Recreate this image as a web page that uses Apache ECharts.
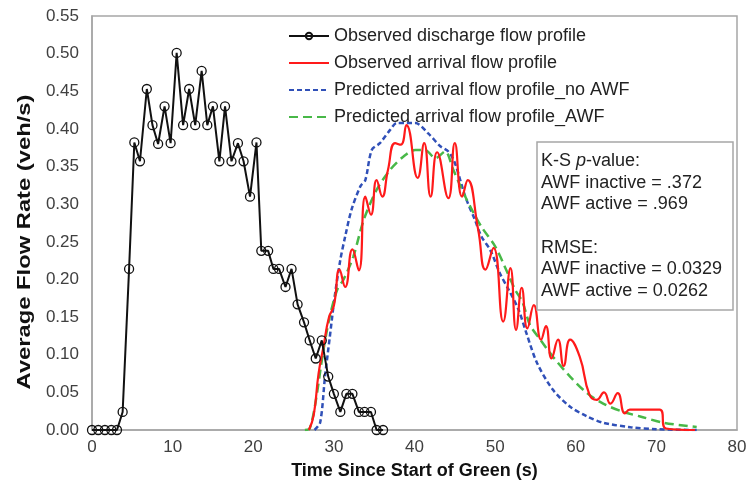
<!DOCTYPE html>
<html>
<head>
<meta charset="utf-8">
<script src="https://cdn.jsdelivr.net/npm/echarts@6/dist/echarts.min.js"></script>
<style>
  html, body { margin: 0; padding: 0; background: #fff; }
  #chart { width: 750px; height: 495px; }
</style>
</head>
<body>
<div id="chart"></div>
<script>
// observed discharge (black, circles)
const dischargeT = [0, 0.78, 1.6, 2.4, 3.1, 3.8, 4.6, 5.25, 5.95, 6.8, 7.5, 8.2, 9.0, 9.75, 10.5, 11.3, 12.05, 12.8, 13.6, 14.3, 15.0, 15.8, 16.5, 17.3, 18.1, 18.8, 19.6, 20.4, 21.0, 21.85, 22.5, 23.2, 24.0, 24.75, 25.5, 26.3, 27.0, 27.75, 28.5, 29.3, 30.0, 30.8, 31.55, 32.3, 33.1, 33.8, 34.6, 35.3, 36.1]
const dischargeV = [0, 0, 0, 0, 0, 0.024, 0.214, 0.382, 0.357, 0.453, 0.405, 0.38, 0.43, 0.381, 0.501, 0.405, 0.453, 0.405, 0.477, 0.405, 0.43, 0.357, 0.43, 0.357, 0.381, 0.357, 0.31, 0.382, 0.238, 0.238, 0.214, 0.214, 0.19, 0.214, 0.167, 0.143, 0.119, 0.095, 0.119, 0.071, 0.048, 0.024, 0.048, 0.048, 0.024, 0.024, 0.024, 0, 0]

// observed arrival (red)
const arrivalT = [26.9, 27.5, 28.1, 28.7, 29.4, 30.0, 30.7, 31.4, 32.3, 33.1, 33.9, 34.6, 35.3, 36.0, 36.7, 37.6, 38.3, 39.0, 40.4, 41.2, 42.0, 42.8, 44.2, 45.0, 45.9, 46.6, 47.9, 48.8, 49.8, 51.0, 51.9, 52.6, 53.3, 54.0, 54.8, 55.7, 56.3, 57.0, 57.8, 58.5, 59.3, 60.5, 61.7, 62.6, 63.5, 64.3, 65.2, 66.1, 66.7, 70.4, 71.2, 74.8]
const arrivalV = [0, 0.02, 0.075, 0.11, 0.15, 0.165, 0.213, 0.19, 0.24, 0.212, 0.31, 0.286, 0.332, 0.31, 0.345, 0.381, 0.379, 0.405, 0.335, 0.381, 0.31, 0.369, 0.308, 0.381, 0.31, 0.332, 0.266, 0.213, 0.242, 0.144, 0.215, 0.133, 0.189, 0.135, 0.166, 0.12, 0.138, 0.095, 0.12, 0.085, 0.12, 0.097, 0.047, 0.04, 0.05, 0.035, 0.049, 0.022, 0.027, 0.027, 0.002, 0]

// predicted, no AWF (blue)
const noAwfT = [27.6, 28.3, 28.9, 29.5, 30.1, 30.8, 31.4, 32.2, 33.3, 33.9, 34.7, 35.7, 37.0, 37.8, 39.0, 40.1, 41.7, 43.2, 44.2, 45.0, 46.3, 47.5, 48.3, 49.4, 50.6, 51.7, 52.9, 53.9, 55.2, 57.2, 59.3, 61.4, 63.4, 66.8, 70, 75]
const noAwfV = [0, 0.01, 0.071, 0.124, 0.177, 0.226, 0.257, 0.293, 0.324, 0.332, 0.372, 0.381, 0.399, 0.408, 0.408, 0.408, 0.394, 0.377, 0.37, 0.355, 0.31, 0.279, 0.257, 0.239, 0.208, 0.186, 0.16, 0.128, 0.089, 0.053, 0.031, 0.018, 0.0097, 0.0036, 0.001, 0]

// predicted, AWF (green)
const awfT = [26.4, 27.0, 27.7, 28.7, 29.5, 30.4, 31.2, 32.4, 33.7, 35.3, 37.0, 38.6, 40.1, 41.3, 42.6, 43.8, 44.8, 45.9, 47.1, 48.3, 50.0, 51.2, 52.5, 53.4, 54.3, 55.6, 57.2, 59.3, 61.4, 63.4, 65.9, 68.0, 70.9, 75.0]
const awfV = [0, 0.002, 0.035, 0.106, 0.151, 0.186, 0.2, 0.23, 0.279, 0.319, 0.346, 0.363, 0.372, 0.372, 0.361, 0.37, 0.346, 0.319, 0.293, 0.27, 0.244, 0.217, 0.186, 0.17, 0.14, 0.12, 0.097, 0.071, 0.049, 0.035, 0.024, 0.018, 0.0097, 0.004]

const names = ['Observed discharge flow profile', 'Observed arrival flow profile', 'Predicted arrival flow profile_no AWF', 'Predicted arrival flow profile_AWF']
const yTitle = 'Average Flow Rate (veh/s)'
const statsText = 'K-S {i|p}-value:\nAWF inactive = .372\nAWF active = .969\n\nRMSE:\nAWF inactive = 0.0329\nAWF active = 0.0262'

const zip = (t, v) => t.map((x, i) => [x, v[i]])
const font = 'Liberation Sans, Arial, sans-serif'

const myChart = echarts.init(document.getElementById('chart'))
const option = {
  animation: false,
  textStyle: { fontFamily: font },
  grid: {
    left: 92, right: 13, top: 16, bottom: 65,
    show: true, borderColor: '#a6a6a6', borderWidth: 1.5
  },
  legend: {
    orient: 'vertical',
    left: 283, top: 22,
    itemWidth: 40, itemHeight: 8, itemGap: 9,
    textStyle: { fontSize: 18, color: '#222', fontFamily: font },
    // only the discharge profile carries a marker in the key
    data: names.map((n, i) => i === 0 ? n : { name: n, itemStyle: { opacity: 0 } })
  },
  xAxis: {
    type: 'value',
    min: 0, max: 80, interval: 10,
    name: 'Time Since Start of Green (s)',
    nameLocation: 'middle', nameGap: 32,
    nameTextStyle: { fontSize: 18, fontWeight: 'bold', color: '#111' },
    axisLine: { lineStyle: { color: '#a6a6a6', width: 1.5 } },
    axisTick: { show: false },
    axisLabel: { fontSize: 17, color: '#404040', margin: 9 },
    splitLine: { show: false }
  },
  yAxis: {
    type: 'value',
    min: 0, max: 0.55, interval: 0.05,
    axisLine: { show: true, lineStyle: { color: '#a6a6a6', width: 1.5 } },
    axisTick: { show: false },
    axisLabel: { fontSize: 17, color: '#404040', margin: 13, formatter: v => v.toFixed(2) },
    splitLine: { show: false }
  },
  series: [
    {
      name: names[2], type: 'line', z: 2,
      data: zip(noAwfT, noAwfV), smooth: 0.3, symbol: 'none',
      lineStyle: { color: '#3050b8', width: 2.5, type: [5, 3] },
      itemStyle: { color: '#3050b8' }
    },
    {
      name: names[3], type: 'line', z: 3,
      data: zip(awfT, awfV), smooth: 0.3, symbol: 'none',
      lineStyle: { color: '#48b848', width: 2.5, type: [9, 5] },
      itemStyle: { color: '#48b848' }
    },
    {
      name: names[1], type: 'line', z: 4,
      data: zip(arrivalT, arrivalV), smooth: 0.5, symbol: 'none',
      lineStyle: { color: '#ff1a1a', width: 2.2 },
      itemStyle: { color: '#ff1a1a' }
    },
    {
      name: names[0], type: 'line', z: 5,
      data: zip(dischargeT, dischargeV),
      symbol: 'circle', symbolSize: 9, showAllSymbol: true,
      lineStyle: { color: '#111', width: 2 },
      itemStyle: { color: 'rgba(255,255,255,0)', borderColor: '#111', borderWidth: 1.3 }
    }
  ],
  graphic: [
    {
      // y axis title, stretched along its length like the source figure
      type: 'text',
      x: 25, y: 242, rotation: Math.PI / 2, scaleX: 1.25,
      style: {
        text: yTitle,
        font: 'bold 19px ' + font,
        fill: '#111',
        align: 'center', verticalAlign: 'middle'
      }
    },
    {
      type: 'rect', z: 100,
      shape: { x: 537, y: 142, width: 196, height: 168 },
      style: { fill: '#fff', stroke: '#a6a6a6', lineWidth: 1.5 }
    },
    {
      type: 'text', z: 101,
      x: 541, y: 150,
      style: {
        text: statsText,
        font: '18px ' + font,
        fill: '#222',
        lineHeight: 21.7,
        rich: {
          i: { fontStyle: 'italic', fontSize: 18, fontFamily: font, lineHeight: 21.7, fill: '#222' }
        }
      }
    }
  ]
}
myChart.setOption(option)
</script>
</body>
</html>
